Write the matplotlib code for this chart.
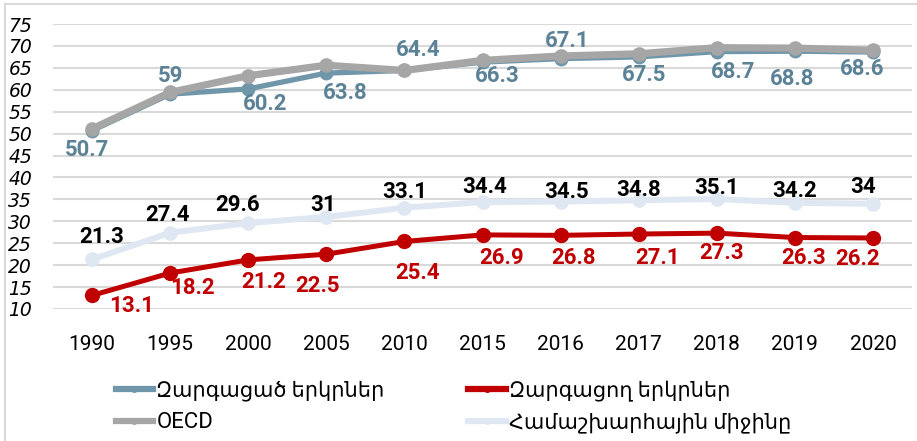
import numpy as np
import matplotlib.pyplot as plt
from matplotlib.lines import Line2D

years = ['1990', '1995', '2000', '2005', '2010', '2015', '2016', '2017', '2018', '2019', '2020']
developed = [50.7, 59, 60.2, 63.8, 64.4, 66.3, 67.1, 67.5, 68.7, 68.8, 68.6]
oecd = [51.1, 59.4, 63.2, 65.6, 64.4, 66.7, 67.7, 68.2, 69.6, 69.5, 69.0]
developing = [13.1, 18.2, 21.2, 22.5, 25.4, 26.9, 26.8, 27.1, 27.3, 26.3, 26.2]
world = [21.3, 27.4, 29.6, 31, 33.1, 34.4, 34.5, 34.8, 35.1, 34.2, 34]
names = ['Զարգացած երկրներ', 'Զարգացող երկրներ', 'OECD', 'Համաշխարհային միջինը']

# label offsets from the point, in pixels (dx, dy; dy up)
dev_off = [(-5, -19), (0, 18), (17, -15), (19, -20), (14, 20), (15, -14),
           (7, 18), (5, -18), (16, -20), (-3, -28), (-11, -17)]
world_off = [(10, 22), (-3, 18), (-11, 18), (-3, 12), (0, 16), (2, 15),
             (6, 10), (0, 10), (0, 11), (0, 12), (-10, 17)]
ing_off = [(40, -11), (22, -15), (15, -22), (-9, -32), (13, -32), (19, -23),
           (13, -23), (19, -24), (5, -20), (9, -20), (-15, -21)]

fig = plt.figure(figsize=(9.17, 4.41), dpi=100)
ax = fig.add_axes([53/917, 1-309/441, (912-53)/917, (309-24)/441])

x = np.arange(len(years))
c_dev = '#7096AA'
c_oecd = '#A6A6A6'
c_ing = '#C00000'
c_world = '#DEE7F2'

ax.plot(x, world, color=c_world, lw=4.3, marker='o', ms=9.5, zorder=3)
ax.plot(x, developing, color=c_ing, lw=3.6, marker='o', ms=10, zorder=4)
ax.plot(x, developed, color=c_dev, lw=3.8, marker='o', ms=9, zorder=3)
ax.plot(x, oecd, color=c_oecd, lw=5.2, marker='o', ms=9.5, zorder=4)

lab = dict(fontsize=16, fontweight='bold', ha='center', va='center',
           family=['Roboto', 'DejaVu Sans'], textcoords='offset pixels')
for i, v in enumerate(developed):
    ax.annotate(f'{v:g}', (i, v), xytext=dev_off[i], color='#5B8296', **lab)
for i, v in enumerate(world):
    ax.annotate(f'{v:g}', (i, v), xytext=world_off[i], color='black', **lab)
for i, v in enumerate(developing):
    ax.annotate(f'{v:g}', (i, v), xytext=ing_off[i], color=c_ing, **lab)

ax.set_xlim(-0.5, len(years) - 0.5)
ax.set_ylim(10, 75)
ax.set_yticks(range(10, 80, 5))
ax.set_xticks(x)
ax.set_xticklabels(years, fontsize=15, family=['Roboto', 'DejaVu Sans'])
ax.set_yticklabels([str(v) for v in range(10, 80, 5)], fontsize=13.5,
                   family='DejaVu Sans', style='italic')
ax.tick_params(axis='both', length=0)
ax.tick_params(axis='x', pad=19)
ax.tick_params(axis='y', pad=15)
ax.grid(axis='y', color='#D9D9D9', lw=1.5)
ax.set_axisbelow(True)
for s in ax.spines.values():
    s.set_visible(False)

handles = [Line2D([], [], color=c_dev, lw=4.5, marker='o', ms=4),
           Line2D([], [], color=c_oecd, lw=4.5, marker='o', ms=4),
           Line2D([], [], color=c_ing, lw=4.5, marker='o', ms=4),
           Line2D([], [], color=c_world, lw=4.5, marker='o', ms=4)]
leg = fig.legend(handles, [names[0], names[2], names[1], names[3]], ncol=2,
                 loc='upper left', bbox_to_anchor=(99/917, 1-363/441), frameon=False,
                 prop={'family': ['Roboto', 'DejaVu Sans'], 'size': 15},
                 handlelength=1.8, handletextpad=0.15, columnspacing=4.0,
                 labelspacing=0.55, borderpad=0.3)
leg.get_texts()[1].set_fontsize(16)

fig.add_artist(Line2D([4.5/917, 4.5/917], [0, 1-3.5/441], color='#D9D9D9', lw=1.5))
fig.add_artist(Line2D([4.5/917, 1], [1-3.5/441, 1-3.5/441], color='#D9D9D9', lw=1.5))

fig.savefig('out.png', dpi=100, facecolor='white')
